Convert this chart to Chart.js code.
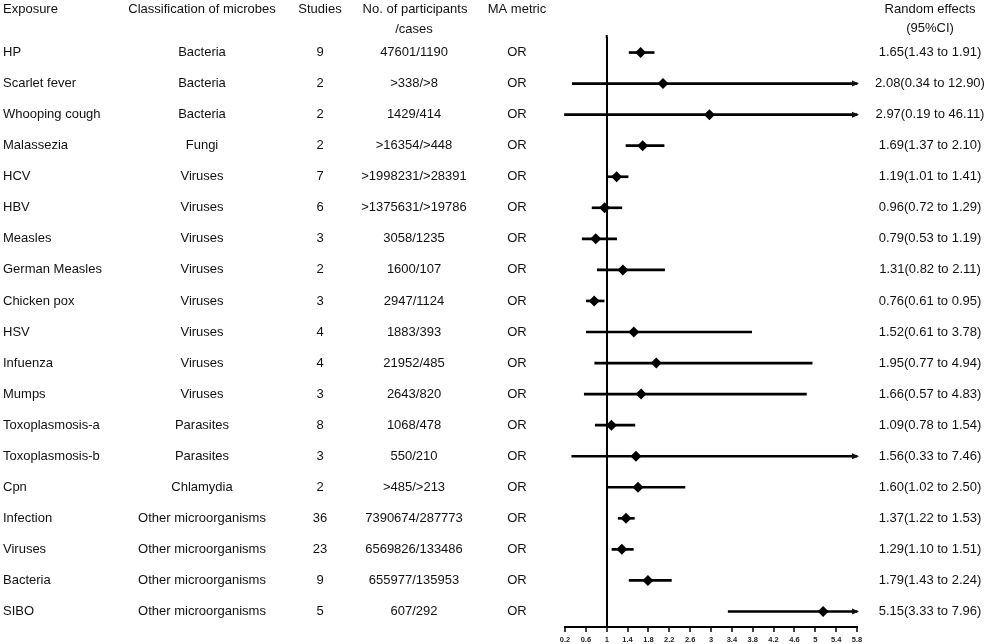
<!DOCTYPE html>
<html>
<head>
<meta charset="utf-8">
<script src="https://cdn.jsdelivr.net/npm/chart.js@4.4.0/dist/chart.umd.min.js"></script>
<style>
body{margin:0;background:#fff}
#holder{position:relative;width:990px;height:644px}
</style>
</head>
<body>
<div id="holder"><canvas id="forest"></canvas></div>
<script>
let exposures = ["HP","Scarlet fever","Whooping cough","Malassezia","HCV","HBV","Measles","German Measles","Chicken pox","HSV","Infuenza","Mumps","Toxoplasmosis-a","Toxoplasmosis-b","Cpn","Infection","Viruses","Bacteria","SIBO"]
let classes = ["Bacteria","Bacteria","Bacteria","Fungi","Viruses","Viruses","Viruses","Viruses","Viruses","Viruses","Viruses","Viruses","Parasites","Parasites","Chlamydia","Other microorganisms","Other microorganisms","Other microorganisms","Other microorganisms"]
let studies = [9,2,2,2,7,6,3,2,3,4,4,3,8,3,2,36,23,9,5]
let participants = ["47601/1190",">338/>8","1429/414",">16354/>448",">1998231/>28391",">1375631/>19786","3058/1235","1600/107","2947/1124","1883/393","21952/485","2643/820","1068/478","550/210",">485/>213","7390674/287773","6569826/133486","655977/135953","607/292"]
let metric = "OR"
let estimates = [1.65,2.08,2.97,1.69,1.19,0.96,0.79,1.31,0.76,1.52,1.95,1.66,1.09,1.56,1.60,1.37,1.29,1.79,5.15]
let lower = [1.43,0.34,0.19,1.37,1.01,0.72,0.53,0.82,0.61,0.61,0.77,0.57,0.78,0.33,1.02,1.22,1.10,1.43,3.33]
let upper = [1.91,12.90,46.11,2.10,1.41,1.29,1.19,2.11,0.95,3.78,4.94,4.83,1.54,7.46,2.50,1.53,1.51,2.24,7.96]
let xTicks = [0.2,0.6,1,1.4,1.8,2.2,2.6,3,3.4,3.8,4.2,4.6,5,5.4,5.8]

let xMin = xTicks[0]
let xMax = xTicks[xTicks.length - 1]
let font = '13px "Liberation Sans", Arial, sans-serif'

// table columns, reference line top and arrow heads, drawn after the chart
let tablePlugin = {
    id: 'table',
    afterDraw(chart){
        let ctx = chart.ctx
        let ys = chart.scales.y
        let xs = chart.scales.x
        ctx.save()
        ctx.fillStyle = '#111'
        ctx.font = font
        ctx.textBaseline = 'middle'

        ctx.textAlign = 'left'
        ctx.fillText("Exposure", 3, 9)
        ctx.textAlign = 'center'
        ctx.fillText("Classification of microbes", 202, 9)
        ctx.fillText("Studies", 320, 9)
        ctx.fillText("No. of participants", 415, 9)
        ctx.fillText("/cases", 414, 29)
        ctx.fillText("MA metric", 517, 9)
        ctx.fillText("Random effects", 930, 9)
        ctx.fillText("(95%CI)", 930, 28)

        // small extension of the OR = 1 line above the plot area
        let x1 = xs.getPixelForValue(1)
        ctx.fillStyle = '#000'
        ctx.fillRect(x1 - 1, chart.chartArea.top - 2, 2, 3)
        ctx.fillStyle = '#111'

        exposures.forEach(function(name, i){
            let py = ys.getPixelForValue(i)
            ctx.textAlign = 'left'
            ctx.fillText(name, 3, py)
            ctx.textAlign = 'center'
            ctx.fillText(classes[i], 202, py)
            ctx.fillText(String(studies[i]), 320, py)
            ctx.fillText(participants[i], 414, py)
            ctx.fillText(metric, 517, py)
            let txt = estimates[i].toFixed(2) + "(" + lower[i].toFixed(2) + " to " + upper[i].toFixed(2) + ")"
            ctx.fillText(txt, 930, py)

            if (upper[i] > xMax){
                let px = xs.getPixelForValue(xMax)
                ctx.beginPath()
                ctx.moveTo(px + 2, py)
                ctx.lineTo(px - 5, py - 3)
                ctx.lineTo(px - 5, py + 3)
                ctx.closePath()
                ctx.fill()
            }
        })
        ctx.restore()
    }
}

let canvas = document.querySelector("#forest")

let chart = new Chart(
    canvas,
    {
        type: 'bar',
        data: {
            labels: exposures,
            datasets: [
                {
                    type: 'scatter',
                    data: estimates.map(function(v, i){
                        return {x: v, y: i}
                    }),
                    pointStyle: 'rectRot',
                    pointRadius: 5.5,
                    backgroundColor: '#000',
                    borderColor: '#000',
                    borderWidth: 0,
                    order: 0
                },
                {
                    data: lower.map(function(lo, i){
                        return [lo, Math.min(upper[i], xMax)]
                    }),
                    backgroundColor: '#000',
                    barThickness: 2,
                    clip: false,
                    order: 1
                }
            ]
        },
        options: {
            indexAxis: 'y',
            responsive: true,
            maintainAspectRatio: false,
            animation: false,
            layout: {padding: {left: 565, right: 133, top: 37, bottom: 0}},
            plugins: {
                legend: {display: false},
                tooltip: {enabled: false}
            },
            scales: {
                x: {
                    type: 'linear',
                    min: xMin,
                    max: xMax,
                    afterBuildTicks: function(scale){
                        scale.ticks = xTicks.map(function(v){ return {value: v} })
                    },
                    afterFit: function(scale){
                        scale.height = 17
                    },
                    border: {display: true, color: '#000', width: 2},
                    grid: {
                        drawOnChartArea: true,
                        drawTicks: true,
                        tickLength: 5,
                        tickWidth: 1.5,
                        tickColor: '#000',
                        color: function(c){
                            return c.tick && c.tick.value === 1 ? '#000' : 'rgba(0,0,0,0)'
                        },
                        lineWidth: 2
                    },
                    ticks: {
                        color: '#222',
                        padding: 3,
                        maxRotation: 0,
                        autoSkip: false,
                        font: {family: '"Liberation Sans", Arial', size: 7.5, weight: 'bold'},
                        callback: function(v){ return String(v) }
                    }
                },
                y: {
                    type: 'category',
                    display: false,
                    offset: true,
                    grid: {display: false}
                }
            }
        },
        plugins: [tablePlugin]
    }
)
</script>
</body>
</html>
